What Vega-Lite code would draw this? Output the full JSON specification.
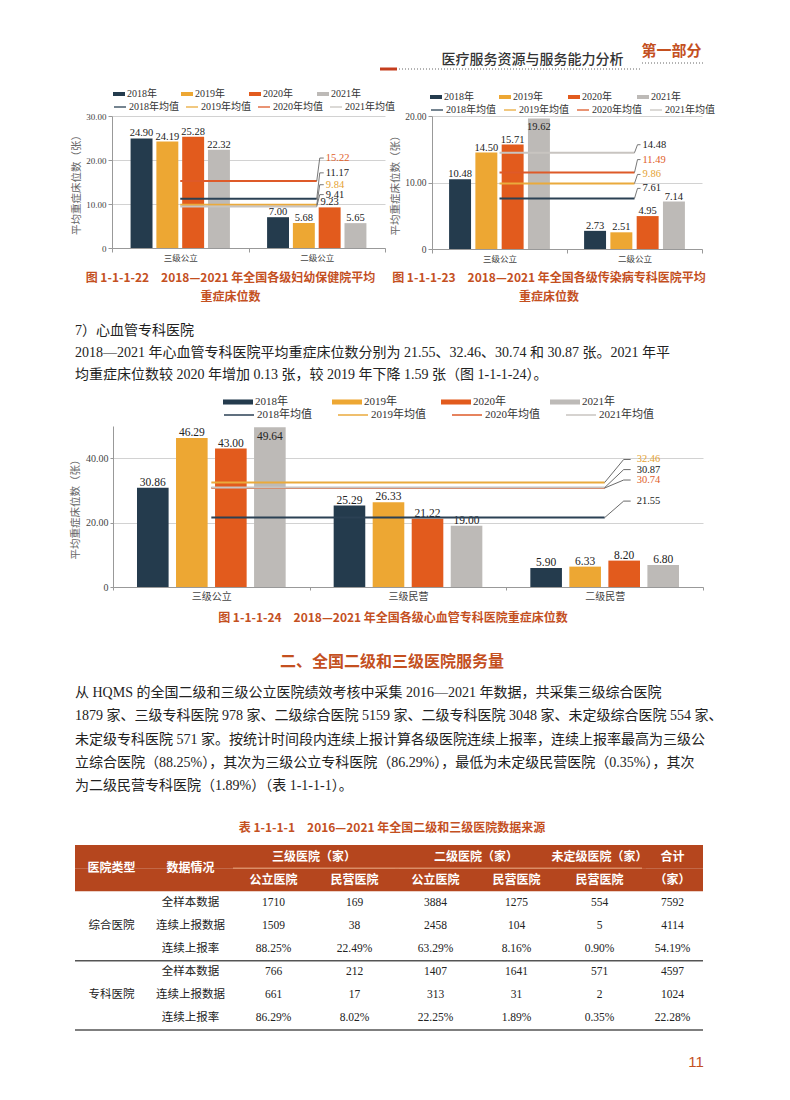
{
"$schema": "https://vega.github.io/schema/vega-lite/v6.json",
"background": "white",
"padding": 0,
"spacing": 0,
"bounds": "full",
"resolve": {"scale": {"color": "independent", "stroke": "independent", "xOffset": "independent"}, "legend": {"color": "independent", "stroke": "independent"}},
"config": {
  "view": {"stroke": null},
  "font": "Liberation Serif, Noto Sans CJK SC",
  "axis": {"labelFont": "Liberation Serif, Noto Sans CJK SC", "titleFont": "Noto Sans CJK SC", "labelOverlap": false},
  "axisY": {"labelOverlap": false},
  "axisQuantitative": {"labelOverlap": false},
  "legend": {"labelFont": "Liberation Serif, Noto Sans CJK SC"},
  "title": {"font": "Noto Sans CJK SC"}
},
"datasets": {
  "header1": [{"文本": "医疗服务资源与服务能力分析"}],
  "header2": [{"文本": "第一部分"}],
  "redline": [{"名称": "页眉红线"}],
  "c1bars": [
    {"cat": "三级公立", "系列": "2018年", "v": 24.90}, {"cat": "三级公立", "系列": "2019年", "v": 24.19},
    {"cat": "三级公立", "系列": "2020年", "v": 25.28}, {"cat": "三级公立", "系列": "2021年", "v": 22.32},
    {"cat": "二级公立", "系列": "2018年", "v": 7.00}, {"cat": "二级公立", "系列": "2019年", "v": 5.68},
    {"cat": "二级公立", "系列": "2020年", "v": 9.23}, {"cat": "二级公立", "系列": "2021年", "v": 5.65}
  ],
  "c1avg": [
    {"cat": "三级公立", "系列": "2018年均值", "v": 11.17}, {"cat": "二级公立", "系列": "2018年均值", "v": 11.17},
    {"cat": "三级公立", "系列": "2019年均值", "v": 9.84}, {"cat": "二级公立", "系列": "2019年均值", "v": 9.84},
    {"cat": "三级公立", "系列": "2020年均值", "v": 15.22}, {"cat": "二级公立", "系列": "2020年均值", "v": 15.22},
    {"cat": "三级公立", "系列": "2021年均值", "v": 9.41}, {"cat": "二级公立", "系列": "2021年均值", "v": 9.41}
  ],
  "c2bars": [
    {"cat": "三级公立", "系列": "2018年", "v": 10.48}, {"cat": "三级公立", "系列": "2019年", "v": 14.50},
    {"cat": "三级公立", "系列": "2020年", "v": 15.71}, {"cat": "三级公立", "系列": "2021年", "v": 19.62},
    {"cat": "二级公立", "系列": "2018年", "v": 2.73}, {"cat": "二级公立", "系列": "2019年", "v": 2.51},
    {"cat": "二级公立", "系列": "2020年", "v": 4.95}, {"cat": "二级公立", "系列": "2021年", "v": 7.14}
  ],
  "c2avg": [
    {"cat": "三级公立", "系列": "2018年均值", "v": 7.61}, {"cat": "二级公立", "系列": "2018年均值", "v": 7.61},
    {"cat": "三级公立", "系列": "2019年均值", "v": 9.86}, {"cat": "二级公立", "系列": "2019年均值", "v": 9.86},
    {"cat": "三级公立", "系列": "2020年均值", "v": 11.49}, {"cat": "二级公立", "系列": "2020年均值", "v": 11.49},
    {"cat": "三级公立", "系列": "2021年均值", "v": 14.48}, {"cat": "二级公立", "系列": "2021年均值", "v": 14.48}
  ],
  "c3bars": [
    {"cat": "三级公立", "系列": "2018年", "v": 30.86}, {"cat": "三级公立", "系列": "2019年", "v": 46.29},
    {"cat": "三级公立", "系列": "2020年", "v": 43.00}, {"cat": "三级公立", "系列": "2021年", "v": 49.64},
    {"cat": "三级民营", "系列": "2018年", "v": 25.29}, {"cat": "三级民营", "系列": "2019年", "v": 26.33},
    {"cat": "三级民营", "系列": "2020年", "v": 21.22}, {"cat": "三级民营", "系列": "2021年", "v": 19.00},
    {"cat": "二级民营", "系列": "2018年", "v": 5.90}, {"cat": "二级民营", "系列": "2019年", "v": 6.33},
    {"cat": "二级民营", "系列": "2020年", "v": 8.20}, {"cat": "二级民营", "系列": "2021年", "v": 6.80}
  ],
  "c3avg": [
    {"cat": "三级公立", "系列": "2018年均值", "v": 21.55}, {"cat": "三级民营", "系列": "2018年均值", "v": 21.55}, {"cat": "二级民营", "系列": "2018年均值", "v": 21.55},
    {"cat": "三级公立", "系列": "2019年均值", "v": 32.46}, {"cat": "三级民营", "系列": "2019年均值", "v": 32.46}, {"cat": "二级民营", "系列": "2019年均值", "v": 32.46},
    {"cat": "三级公立", "系列": "2020年均值", "v": 30.74}, {"cat": "三级民营", "系列": "2020年均值", "v": 30.74}, {"cat": "二级民营", "系列": "2020年均值", "v": 30.74},
    {"cat": "三级公立", "系列": "2021年均值", "v": 30.87}, {"cat": "三级民营", "系列": "2021年均值", "v": 30.87}, {"cat": "二级民营", "系列": "2021年均值", "v": 30.87}
  ],
  "paraC": [
    {"段": "正文", "行": 1, "文本": "　　7）心血管专科医院"},
    {"段": "正文", "行": 2, "文本": "　　2018—2021 年心血管专科医院平均重症床位数分别为 21.55、32.46、30.74 和 30.87 张。2021 年平"},
    {"段": "正文", "行": 3, "文本": "均重症床位数较 2020 年增加 0.13 张，较 2019 年下降 1.59 张（图 1-1-1-24）。"}
  ],
  "secTitle": [{"文本": "二、全国二级和三级医院服务量"}],
  "paraE": [
    {"段": "正文", "行": 1, "文本": "　　从 HQMS 的全国二级和三级公立医院绩效考核中采集 2016—2021 年数据，共采集三级综合医院"},
    {"段": "正文", "行": 2, "文本": "1879 家、三级专科医院 978 家、二级综合医院 5159 家、二级专科医院 3048 家、未定级综合医院 554 家、"},
    {"段": "正文", "行": 3, "文本": "未定级专科医院 571 家。按统计时间段内连续上报计算各级医院连续上报率，连续上报率最高为三级公"},
    {"段": "正文", "行": 4, "文本": "立综合医院（88.25%），其次为三级公立专科医院（86.29%），最低为未定级民营医院（0.35%），其次"},
    {"段": "正文", "行": 5, "文本": "为二级民营专科医院（1.89%）（表 1-1-1-1）。"}
  ],
  "tabTitle": [{"文本": "表 1-1-1-1　2016—2021 年全国二级和三级医院数据来源"}],
  "pageNo": [{"文本": "11"}],
  "hdr": [{"row": "h1"}, {"row": "h2"}],
  "tlines": [{"row": "r3"}, {"row": "r6"}],
  "thead": [
    {"col": "类型", "row": "h2", "text": "医院类型"},
    {"col": "情况", "row": "h2", "text": "数据情况"},
    {"col": "三级", "row": "h2", "sub": "公立医院", "text": "公立医院"},
    {"col": "三级", "row": "h2", "sub": "民营医院", "text": "民营医院"},
    {"col": "二级", "row": "h2", "sub": "公立医院", "text": "公立医院"},
    {"col": "二级", "row": "h2", "sub": "民营医院", "text": "民营医院"},
    {"col": "未民", "row": "h1", "text": "未定级医院（家）"},
    {"col": "未民", "row": "h2", "text": "民营医院"},
    {"col": "合计", "row": "h1", "text": "合计"},
    {"col": "合计", "row": "h2", "text": "（家）"}
  ],
  "tgroup": [
    {"col": "三级", "row": "h1", "text": "三级医院（家）"},
    {"col": "二级", "row": "h1", "text": "二级医院（家）"}
  ],
  "tbody": [
    {"col": "类型", "row": "r2", "text": "综合医院"}, {"col": "类型", "row": "r5", "text": "专科医院"},
    {"col": "情况", "row": "r1", "text": "全样本数据"}, {"col": "情况", "row": "r2", "text": "连续上报数据"}, {"col": "情况", "row": "r3", "text": "连续上报率"},
    {"col": "情况", "row": "r4", "text": "全样本数据"}, {"col": "情况", "row": "r5", "text": "连续上报数据"}, {"col": "情况", "row": "r6", "text": "连续上报率"},
    {"col": "三级", "sub": "公立医院", "row": "r1", "text": "1710"}, {"col": "三级", "sub": "公立医院", "row": "r2", "text": "1509"}, {"col": "三级", "sub": "公立医院", "row": "r3", "text": "88.25%"},
    {"col": "三级", "sub": "公立医院", "row": "r4", "text": "766"}, {"col": "三级", "sub": "公立医院", "row": "r5", "text": "661"}, {"col": "三级", "sub": "公立医院", "row": "r6", "text": "86.29%"},
    {"col": "三级", "sub": "民营医院", "row": "r1", "text": "169"}, {"col": "三级", "sub": "民营医院", "row": "r2", "text": "38"}, {"col": "三级", "sub": "民营医院", "row": "r3", "text": "22.49%"},
    {"col": "三级", "sub": "民营医院", "row": "r4", "text": "212"}, {"col": "三级", "sub": "民营医院", "row": "r5", "text": "17"}, {"col": "三级", "sub": "民营医院", "row": "r6", "text": "8.02%"},
    {"col": "二级", "sub": "公立医院", "row": "r1", "text": "3884"}, {"col": "二级", "sub": "公立医院", "row": "r2", "text": "2458"}, {"col": "二级", "sub": "公立医院", "row": "r3", "text": "63.29%"},
    {"col": "二级", "sub": "公立医院", "row": "r4", "text": "1407"}, {"col": "二级", "sub": "公立医院", "row": "r5", "text": "313"}, {"col": "二级", "sub": "公立医院", "row": "r6", "text": "22.25%"},
    {"col": "二级", "sub": "民营医院", "row": "r1", "text": "1275"}, {"col": "二级", "sub": "民营医院", "row": "r2", "text": "104"}, {"col": "二级", "sub": "民营医院", "row": "r3", "text": "8.16%"},
    {"col": "二级", "sub": "民营医院", "row": "r4", "text": "1641"}, {"col": "二级", "sub": "民营医院", "row": "r5", "text": "31"}, {"col": "二级", "sub": "民营医院", "row": "r6", "text": "1.89%"},
    {"col": "未民", "row": "r1", "text": "554"}, {"col": "未民", "row": "r2", "text": "5"}, {"col": "未民", "row": "r3", "text": "0.90%"},
    {"col": "未民", "row": "r4", "text": "571"}, {"col": "未民", "row": "r5", "text": "2"}, {"col": "未民", "row": "r6", "text": "0.35%"},
    {"col": "合计", "row": "r1", "text": "7592"}, {"col": "合计", "row": "r2", "text": "4114"}, {"col": "合计", "row": "r3", "text": "54.19%"},
    {"col": "合计", "row": "r4", "text": "4597"}, {"col": "合计", "row": "r5", "text": "1024"}, {"col": "合计", "row": "r6", "text": "22.28%"}
  ]
},
"vconcat": [
  {"hconcat": [
    {"width": 380, "height": 88, "data": {"values": []}, "mark": "point"},
    {"width": 17, "height": 88, "data": {"name": "redline"}, "mark": {"type": "rule", "color": "#c43d1d", "strokeWidth": 3, "yOffset": -19}, "encoding": {"y": {"value": "height"}}},
    {"width": 243, "height": 88, "data": {"name": "header1"}, "layer": [
      {"mark": {"type": "rule", "color": "#666", "strokeWidth": 1, "strokeDash": [1, 2], "yOffset": -19}, "encoding": {"y": {"value": "height"}}},
      {"mark": {"type": "text", "font": "Noto Sans CJK SC", "fontSize": 14, "fontWeight": 500, "color": "#333", "baseline": "bottom", "dy": -21, "dx": 14}, "encoding": {"y": {"value": "height"}, "text": {"field": "文本"}}}
    ]},
    {"width": 63, "height": 88, "data": {"name": "header2"}, "layer": [
      {"mark": {"type": "rule", "color": "#666", "strokeWidth": 1, "strokeDash": [1, 2], "yOffset": -25}, "encoding": {"y": {"value": "height"}}},
      {"mark": {"type": "text", "font": "Noto Sans CJK SC", "fontSize": 15, "fontWeight": "bold", "color": "#c4501f", "baseline": "bottom", "dy": -29}, "encoding": {"y": {"value": "height"}, "text": {"field": "文本"}}}
    ]}
  ], "spacing": 0, "bounds": "flush"},

  {"hconcat": [
    {"width": 112, "height": 204, "data": {"values": []}, "mark": "point"},
    {
      "width": 273, "height": 132,
      "title": {"text": ["图 1-1-1-22　2018—2021 年全国各级妇幼保健院平均", "重症床位数"], "orient": "bottom", "offset": 11, "dx": -18, "font": "Noto Sans CJK SC", "fontSize": 12, "fontWeight": "bold", "color": "#c4501f", "lineHeight": 19},
      "encoding": {
        "x": {"field": "cat", "type": "nominal", "scale": {"domain": ["三级公立", "二级公立"], "paddingInner": 0, "paddingOuter": 0}, "axis": {"title": null, "labelAngle": 0, "labelFont": "Noto Sans CJK SC", "labelFontSize": 8.5, "labelColor": "#444", "tickBand": "extent", "tickSize": 4, "tickColor": "#999", "domainColor": "#999", "labelPadding": 1}},
        "y": {"field": "v", "type": "quantitative", "scale": {"domain": [0, 30], "nice": false}, "axis": {"title": "平均重症床位数（张）", "values": [0, 5, 10, 15, 20, 25, 30], "tickCount": 6, "labelOverlap": false, "labelSeparation": 0, "labelExpr": "datum.value == 0 ? '0' : format(datum.value, '.2f')", "labelFontSize": 9, "labelColor": "#444", "titleFontSize": 10.5, "titleFontWeight": "normal", "titleColor": "#666", "titlePadding": 4, "tickSize": 4, "tickColor": "#999", "domainColor": "#999", "gridColor": "#d2d2d2", "labelPadding": 2}}
      },
      "layer": [
        {"data": {"name": "c1bars"}, "mark": {"type": "bar"}, "encoding": {
          "xOffset": {"field": "系列", "type": "nominal", "scale": {"domain": ["2018年", "2019年", "2020年", "2021年"], "paddingInner": 0.15, "paddingOuter": 0.72}},
          "color": {"field": "系列", "type": "nominal",
            "scale": {"domain": ["2018年", "2019年", "2020年", "2021年"], "range": ["#243b4d", "#eda733", "#e25b1d", "#bdbab7"]},
            "legend": {"title": null, "orient": "none", "legendX": 1, "legendY": -28, "direction": "horizontal", "columns": 4, "symbolSize": 144, "symbolType": "M-1,-0.33H1V0.33H-1Z", "symbolStrokeWidth": 0, "labelFontSize": 10, "labelColor": "#333", "labelOffset": 2, "columnPadding": 24}}
        }},
        {"data": {"name": "c1bars"}, "mark": {"type": "text", "baseline": "bottom", "fontSize": 10.5, "color": "#222"}, "encoding": {
          "xOffset": {"field": "系列", "type": "nominal"},
          "text": {"field": "v", "type": "quantitative", "format": ".2f"}}},
        {"data": {"name": "c1avg"}, "mark": {"type": "line", "strokeWidth": 2}, "encoding": {
          "stroke": {"field": "系列", "type": "nominal",
            "scale": {"domain": ["2018年均值", "2019年均值", "2020年均值", "2021年均值"], "range": ["#2b4154", "#eaaa3c", "#de5a29", "#c8c4c0"]},
            "legend": {"title": null, "orient": "none", "legendX": 1, "legendY": -16, "direction": "horizontal", "columns": 4, "symbolSize": 144, "symbolType": "stroke", "symbolStrokeWidth": 1.3, "labelFontSize": 10, "labelColor": "#333", "labelOffset": 2, "columnPadding": 4}}}},
        {"data": {"name": "c1avg"}, "transform": [{"filter": "datum.cat == '二级公立'"}],
          "mark": {"type": "rule", "color": "#555", "strokeWidth": 0.8, "x2Offset": 3, "y2Offset": {"expr": "datum['系列']=='2018年均值' ? -26 : datum['系列']=='2019年均值' ? -20 : datum['系列']=='2020年均值' ? -23 : -12"}},
          "encoding": {"x2": {"field": "cat"}, "y2": {"field": "v"}}},
        {"data": {"name": "c1avg"}, "transform": [{"filter": "datum.cat == '二级公立'"}],
          "mark": {"type": "rule", "color": "#555", "strokeWidth": 0.8, "xOffset": 3, "x2Offset": 7,
            "yOffset": {"expr": "datum['系列']=='2018年均值' ? -26 : datum['系列']=='2019年均值' ? -20 : datum['系列']=='2020年均值' ? -23 : -12"},
            "y2Offset": {"expr": "datum['系列']=='2018年均值' ? -26 : datum['系列']=='2019年均值' ? -20 : datum['系列']=='2020年均值' ? -23 : -12"}},
          "encoding": {"x2": {"field": "cat"}, "y2": {"field": "v"}}},
        {"data": {"name": "c1avg"}, "transform": [{"filter": "datum.cat == '二级公立'"}],
          "mark": {"type": "text", "align": "left", "baseline": "middle", "fontSize": 10.5, "dx": 9,
            "dy": {"expr": "datum['系列']=='2018年均值' ? -26 : datum['系列']=='2019年均值' ? -20 : datum['系列']=='2020年均值' ? -23 : -12"}},
          "encoding": {
            "text": {"field": "v", "type": "quantitative", "format": ".2f"},
            "color": {"condition": [{"test": "datum['系列']=='2019年均值'", "value": "#e5a232"}, {"test": "datum['系列']=='2020年均值'", "value": "#e0602a"}], "value": "#222"}}}
      ]
    },
    {"width": 47, "height": 132, "data": {"values": []}, "mark": "point"},
    {
      "width": 270, "height": 133,
      "title": {"text": ["图 1-1-1-23　2018—2021 年全国各级传染病专科医院平均", "重症床位数"], "orient": "bottom", "offset": 10, "dx": -18, "font": "Noto Sans CJK SC", "fontSize": 12, "fontWeight": "bold", "color": "#c4501f", "lineHeight": 19},
      "encoding": {
        "x": {"field": "cat", "type": "nominal", "scale": {"domain": ["三级公立", "二级公立"], "paddingInner": 0, "paddingOuter": 0}, "axis": {"title": null, "labelAngle": 0, "labelFont": "Noto Sans CJK SC", "labelFontSize": 8.5, "labelColor": "#444", "tickBand": "extent", "tickSize": 4, "tickColor": "#999", "domainColor": "#999", "labelPadding": 1}},
        "y": {"field": "v", "type": "quantitative", "scale": {"domain": [0, 20], "nice": false}, "axis": {"title": "平均重症床位数（张）", "values": [0, 5, 10, 15, 20], "tickCount": 4, "labelOverlap": false, "labelSeparation": 0, "labelExpr": "datum.value == 0 ? '0' : format(datum.value, '.2f')", "labelFontSize": 9.5, "labelColor": "#444", "titleFontSize": 10.5, "titleFontWeight": "normal", "titleColor": "#666", "titlePadding": 4, "tickSize": 4, "tickColor": "#999", "domainColor": "#999", "gridColor": "#d2d2d2", "labelPadding": 2}}
      },
      "layer": [
        {"data": {"name": "c2bars"}, "mark": {"type": "bar"}, "encoding": {
          "xOffset": {"field": "系列", "type": "nominal", "scale": {"domain": ["2018年", "2019年", "2020年", "2021年"], "paddingInner": 0.165, "paddingOuter": 0.65}},
          "color": {"field": "系列", "type": "nominal",
            "scale": {"domain": ["2018年", "2019年", "2020年", "2021年"], "range": ["#243b4d", "#eda733", "#e25b1d", "#bdbab7"]},
            "legend": {"title": null, "orient": "none", "legendX": -2, "legendY": -25, "direction": "horizontal", "columns": 4, "symbolSize": 144, "symbolType": "M-1,-0.33H1V0.33H-1Z", "symbolStrokeWidth": 0, "labelFontSize": 10, "labelColor": "#333", "labelOffset": 2, "columnPadding": 25}}
        }},
        {"data": {"name": "c2bars"}, "transform": [{"filter": "datum.v <= 19"}], "mark": {"type": "text", "baseline": "bottom", "fontSize": 10.5, "color": "#222"}, "encoding": {
          "xOffset": {"field": "系列", "type": "nominal"},
          "text": {"field": "v", "type": "quantitative", "format": ".2f"}}},
        {"data": {"name": "c2bars"}, "transform": [{"filter": "datum.v > 19"}], "mark": {"type": "text", "baseline": "top", "dy": 3, "fontSize": 10.5, "color": "#222"}, "encoding": {
          "xOffset": {"field": "系列", "type": "nominal"},
          "text": {"field": "v", "type": "quantitative", "format": ".2f"}}},
        {"data": {"name": "c2avg"}, "mark": {"type": "line", "strokeWidth": 2}, "encoding": {
          "stroke": {"field": "系列", "type": "nominal",
            "scale": {"domain": ["2018年均值", "2019年均值", "2020年均值", "2021年均值"], "range": ["#2b4154", "#eaaa3c", "#de5a29", "#c8c4c0"]},
            "legend": {"title": null, "orient": "none", "legendX": -2, "legendY": -13, "direction": "horizontal", "columns": 4, "symbolSize": 144, "symbolType": "stroke", "symbolStrokeWidth": 1.3, "labelFontSize": 10, "labelColor": "#333", "labelOffset": 2, "columnPadding": 5}}}},
        {"data": {"name": "c2avg"}, "transform": [{"filter": "datum.cat == '二级公立'"}],
          "mark": {"type": "rule", "color": "#555", "strokeWidth": 0.8, "x2Offset": 3, "y2Offset": {"expr": "datum['系列']=='2018年均值' ? -10 : datum['系列']=='2019年均值' ? -9 : datum['系列']=='2020年均值' ? -13 : -8"}},
          "encoding": {"x2": {"field": "cat"}, "y2": {"field": "v"}}},
        {"data": {"name": "c2avg"}, "transform": [{"filter": "datum.cat == '二级公立'"}],
          "mark": {"type": "rule", "color": "#555", "strokeWidth": 0.8, "xOffset": 3, "x2Offset": 6,
            "yOffset": {"expr": "datum['系列']=='2018年均值' ? -10 : datum['系列']=='2019年均值' ? -9 : datum['系列']=='2020年均值' ? -13 : -8"},
            "y2Offset": {"expr": "datum['系列']=='2018年均值' ? -10 : datum['系列']=='2019年均值' ? -9 : datum['系列']=='2020年均值' ? -13 : -8"}},
          "encoding": {"x2": {"field": "cat"}, "y2": {"field": "v"}}},
        {"data": {"name": "c2avg"}, "transform": [{"filter": "datum.cat == '二级公立'"}],
          "mark": {"type": "text", "align": "left", "baseline": "middle", "fontSize": 10.5, "dx": 8,
            "dy": {"expr": "datum['系列']=='2018年均值' ? -10 : datum['系列']=='2019年均值' ? -9 : datum['系列']=='2020年均值' ? -13 : -8"}},
          "encoding": {
            "text": {"field": "v", "type": "quantitative", "format": ".2f"},
            "color": {"condition": [{"test": "datum['系列']=='2019年均值'", "value": "#e5a232"}, {"test": "datum['系列']=='2020年均值'", "value": "#e0602a"}], "value": "#222"}}}
      ]
    }
  ], "spacing": 0, "bounds": "flush", "resolve": {"scale": {"color": "independent", "stroke": "independent", "xOffset": "independent"}, "legend": {"color": "independent", "stroke": "independent"}}},

  {"hconcat": [
    {"width": 75, "height": 76, "data": {"values": []}, "mark": "point"},
    {"width": 640, "height": 66, "data": {"name": "paraC"},
      "mark": {"type": "text", "align": "left", "baseline": "middle", "fontSize": 14, "color": "#222"},
      "encoding": {
        "x": {"field": "段", "type": "nominal", "bandPosition": 0, "scale": {"type": "band", "paddingInner": 0, "paddingOuter": 0}, "axis": null},
        "y": {"field": "行", "type": "ordinal", "scale": {"type": "band", "paddingInner": 0, "paddingOuter": 0}, "axis": null},
        "text": {"field": "文本"}}}
  ], "spacing": 0, "bounds": "flush"},

  {"hconcat": [
    {"width": 113, "height": 225, "data": {"values": []}, "mark": "point"},
    {
      "width": 590, "height": 161,
      "title": {"text": "图 1-1-1-24　2018—2021 年全国各级心血管专科医院重症床位数", "orient": "bottom", "offset": 12, "dx": -15, "font": "Noto Sans CJK SC", "fontSize": 12, "fontWeight": "bold", "color": "#c4501f"},
      "encoding": {
        "x": {"field": "cat", "type": "nominal", "scale": {"domain": ["三级公立", "三级民营", "二级民营"], "paddingInner": 0, "paddingOuter": 0}, "axis": {"title": null, "labelAngle": 0, "labelFont": "Noto Sans CJK SC", "labelFontSize": 10, "labelColor": "#444", "tickBand": "extent", "tickSize": 3, "tickColor": "#999", "domainColor": "#999", "labelPadding": 1}},
        "y": {"field": "v", "type": "quantitative", "scale": {"domain": [0, 50], "nice": false}, "axis": {"title": "平均重症床位数（张）", "values": [0, 10, 20, 30, 40, 50], "tickCount": 5, "labelOverlap": false, "labelSeparation": 0, "labelExpr": "datum.value == 0 ? '0' : format(datum.value, '.2f')", "labelFontSize": 10, "labelColor": "#444", "titleFontSize": 10.5, "titleFontWeight": "normal", "titleColor": "#666", "titlePadding": 5, "tickSize": 3, "tickColor": "#999", "domainColor": "#999", "gridColor": "#d2d2d2", "labelPadding": 2}}
      },
      "layer": [
        {"data": {"name": "c3bars"}, "mark": {"type": "bar"}, "encoding": {
          "xOffset": {"field": "系列", "type": "nominal", "scale": {"domain": ["2018年", "2019年", "2020年", "2021年"], "paddingInner": 0.19, "paddingOuter": 0.615}},
          "color": {"field": "系列", "type": "nominal",
            "scale": {"domain": ["2018年", "2019年", "2020年", "2021年"], "range": ["#243b4d", "#eda733", "#e25b1d", "#bdbab7"]},
            "legend": {"title": null, "orient": "none", "legendX": 119, "legendY": -30, "direction": "horizontal", "columns": 4, "symbolSize": 144, "symbolType": "M-2.5,-0.42H2.5V0.42H-2.5Z", "symbolStrokeWidth": 0, "labelFontSize": 11, "labelColor": "#333", "labelOffset": 11, "columnPadding": 44}}
        }},
        {"data": {"name": "c3bars"}, "transform": [{"filter": "datum.v <= 48"}], "mark": {"type": "text", "baseline": "bottom", "fontSize": 11.5, "color": "#222"}, "encoding": {
          "xOffset": {"field": "系列", "type": "nominal"},
          "text": {"field": "v", "type": "quantitative", "format": ".2f"}}},
        {"data": {"name": "c3bars"}, "transform": [{"filter": "datum.v > 48"}], "mark": {"type": "text", "baseline": "top", "dy": 4, "fontSize": 11.5, "color": "#222"}, "encoding": {
          "xOffset": {"field": "系列", "type": "nominal"},
          "text": {"field": "v", "type": "quantitative", "format": ".2f"}}},
        {"data": {"name": "c3avg"}, "mark": {"type": "line", "strokeWidth": 2}, "encoding": {
          "stroke": {"field": "系列", "type": "nominal",
            "scale": {"domain": ["2018年均值", "2019年均值", "2020年均值", "2021年均值"], "range": ["#2b4154", "#eaaa3c", "#de5a29", "#c8c4c0"]},
            "legend": {"title": null, "orient": "none", "legendX": 119, "legendY": -18, "direction": "horizontal", "columns": 4, "symbolSize": 144, "symbolType": "M-2.5,0H2.5", "symbolStrokeWidth": 1.5, "labelFontSize": 11, "labelColor": "#333", "labelOffset": 11, "columnPadding": 23}}}},
        {"data": {"name": "c3avg"}, "transform": [{"filter": "datum.cat == '二级民营'"}],
          "mark": {"type": "rule", "color": "#444", "strokeWidth": 0.8, "x2Offset": 19, "y2Offset": {"expr": "datum['系列']=='2018年均值' ? -16.5 : datum['系列']=='2019年均值' ? -23 : datum['系列']=='2020年均值' ? -8 : -18"}},
          "encoding": {"x2": {"field": "cat"}, "y2": {"field": "v"}}},
        {"data": {"name": "c3avg"}, "transform": [{"filter": "datum.cat == '二级民营'"}],
          "mark": {"type": "rule", "color": "#444", "strokeWidth": 0.8, "xOffset": 19, "x2Offset": 26,
            "yOffset": {"expr": "datum['系列']=='2018年均值' ? -16.5 : datum['系列']=='2019年均值' ? -23 : datum['系列']=='2020年均值' ? -8 : -18"},
            "y2Offset": {"expr": "datum['系列']=='2018年均值' ? -16.5 : datum['系列']=='2019年均值' ? -23 : datum['系列']=='2020年均值' ? -8 : -18"}},
          "encoding": {"x2": {"field": "cat"}, "y2": {"field": "v"}}},
        {"data": {"name": "c3avg"}, "transform": [{"filter": "datum.cat == '二级民营'"}],
          "mark": {"type": "text", "align": "left", "baseline": "middle", "fontSize": 10.5, "dx": 32,
            "dy": {"expr": "datum['系列']=='2018年均值' ? -16.5 : datum['系列']=='2019年均值' ? -23 : datum['系列']=='2020年均值' ? -8 : -18"}},
          "encoding": {
            "text": {"field": "v", "type": "quantitative", "format": ".2f"},
            "color": {"condition": [{"test": "datum['系列']=='2019年均值'", "value": "#e5a232"}, {"test": "datum['系列']=='2020年均值'", "value": "#e0602a"}], "value": "#222"}}}
      ]
    }
  ], "spacing": 0, "bounds": "flush", "resolve": {"scale": {"color": "independent", "stroke": "independent", "xOffset": "independent"}, "legend": {"color": "independent", "stroke": "independent"}}},

  {"width": 784, "height": 30, "data": {"name": "secTitle"}, "mark": {"type": "text", "font": "Noto Sans CJK SC", "fontSize": 16, "fontWeight": "bold", "color": "#c4501f", "dy": -4.5}, "encoding": {"text": {"field": "文本"}}},

  {"hconcat": [
    {"width": 75, "height": 117, "data": {"values": []}, "mark": "point"},
    {"width": 640, "height": 117, "data": {"name": "paraE"},
      "mark": {"type": "text", "align": "left", "baseline": "middle", "fontSize": 14, "color": "#222"},
      "encoding": {
        "x": {"field": "段", "type": "nominal", "bandPosition": 0, "scale": {"type": "band", "paddingInner": 0, "paddingOuter": 0}, "axis": null},
        "y": {"field": "行", "type": "ordinal", "scale": {"type": "band", "paddingInner": 0, "paddingOuter": 0}, "axis": null},
        "text": {"field": "文本"}}}
  ], "spacing": 0, "bounds": "flush"},

  {"width": 784, "height": 47, "data": {"name": "tabTitle"}, "mark": {"type": "text", "font": "Noto Sans CJK SC", "fontSize": 12, "fontWeight": "bold", "color": "#c4501f", "dy": 6.5}, "encoding": {"text": {"field": "文本"}}},

  {"hconcat": [
    {"width": 75, "height": 185, "data": {"values": []}, "mark": "point"},
    {"width": 73, "height": 185, "layer": [
      {"data": {"name": "hdr"}, "mark": {"type": "rect", "color": "#b5461e"}, "encoding": {"y": {"field": "row", "type": "nominal", "scale": {"type": "band", "domain": ["h1", "h2", "r1", "r2", "r3", "r4", "r5", "r6"], "paddingInner": 0, "paddingOuter": 0}, "axis": null}}},
      {"data": {"name": "thead"}, "transform": [{"filter": "datum.col == '类型'"}], "mark": {"type": "text", "font": "Noto Sans CJK SC", "fontSize": 12, "fontWeight": "bold", "color": "#ffffff"}, "encoding": {"y": {"field": "row", "type": "nominal", "bandPosition": 0}, "text": {"field": "text"}}},
      {"data": {"name": "tbody"}, "transform": [{"filter": "datum.col == '类型'"}], "mark": {"type": "text", "fontSize": 11.5, "color": "#222"}, "encoding": {"y": {"field": "row", "type": "nominal"}, "text": {"field": "text"}}},
      {"data": {"name": "tlines"}, "mark": {"type": "rule", "color": "#555", "strokeWidth": 1.5}, "encoding": {"y": {"field": "row", "type": "nominal", "bandPosition": 1}}}
    ]},
    {"width": 85, "height": 185, "layer": [
      {"data": {"name": "hdr"}, "mark": {"type": "rect", "color": "#b5461e"}, "encoding": {"y": {"field": "row", "type": "nominal", "scale": {"type": "band", "domain": ["h1", "h2", "r1", "r2", "r3", "r4", "r5", "r6"], "paddingInner": 0, "paddingOuter": 0}, "axis": null}}},
      {"data": {"name": "thead"}, "transform": [{"filter": "datum.col == '情况'"}], "mark": {"type": "text", "font": "Noto Sans CJK SC", "fontSize": 12, "fontWeight": "bold", "color": "#ffffff"}, "encoding": {"y": {"field": "row", "type": "nominal", "bandPosition": 0}, "text": {"field": "text"}}},
      {"data": {"name": "tbody"}, "transform": [{"filter": "datum.col == '情况'"}], "mark": {"type": "text", "fontSize": 11.5, "color": "#222"}, "encoding": {"y": {"field": "row", "type": "nominal"}, "text": {"field": "text"}}},
      {"data": {"name": "tlines"}, "mark": {"type": "rule", "color": "#555", "strokeWidth": 1.5}, "encoding": {"y": {"field": "row", "type": "nominal", "bandPosition": 1}}}
    ]},
    {"width": 162, "height": 185, "layer": [
      {"data": {"name": "hdr"}, "mark": {"type": "rect", "color": "#b5461e"}, "encoding": {"y": {"field": "row", "type": "nominal", "scale": {"type": "band", "domain": ["h1", "h2", "r1", "r2", "r3", "r4", "r5", "r6"], "paddingInner": 0, "paddingOuter": 0}, "axis": null}}},
      {"data": {"name": "hdr"}, "transform": [{"filter": "datum.row == 'h1'"}], "mark": {"type": "rule", "color": "#e9a57c", "strokeWidth": 1, "xOffset": 4, "x2Offset": -4}, "encoding": {"y": {"field": "row", "type": "nominal", "bandPosition": 1}}},
      {"data": {"name": "tgroup"}, "transform": [{"filter": "datum.col == '三级'"}], "mark": {"type": "text", "font": "Noto Sans CJK SC", "fontSize": 12, "fontWeight": "bold", "color": "#ffffff"}, "encoding": {"y": {"field": "row", "type": "nominal"}, "text": {"field": "text"}}},
      {"data": {"name": "thead"}, "transform": [{"filter": "datum.col == '三级'"}], "mark": {"type": "text", "font": "Noto Sans CJK SC", "fontSize": 12, "fontWeight": "bold", "color": "#ffffff"}, "encoding": {
        "x": {"field": "sub", "type": "nominal", "scale": {"type": "band", "domain": ["公立医院", "民营医院"], "paddingInner": 0, "paddingOuter": 0}, "axis": null},
        "y": {"field": "row", "type": "nominal"}, "text": {"field": "text"}}},
      {"data": {"name": "tbody"}, "transform": [{"filter": "datum.col == '三级'"}], "mark": {"type": "text", "fontSize": 11.5, "color": "#222"}, "encoding": {
        "x": {"field": "sub", "type": "nominal"}, "y": {"field": "row", "type": "nominal"}, "text": {"field": "text"}}},
      {"data": {"name": "tlines"}, "mark": {"type": "rule", "color": "#555", "strokeWidth": 1.5}, "encoding": {"y": {"field": "row", "type": "nominal", "bandPosition": 1}}}
    ]},
    {"width": 162, "height": 185, "layer": [
      {"data": {"name": "hdr"}, "mark": {"type": "rect", "color": "#b5461e"}, "encoding": {"y": {"field": "row", "type": "nominal", "scale": {"type": "band", "domain": ["h1", "h2", "r1", "r2", "r3", "r4", "r5", "r6"], "paddingInner": 0, "paddingOuter": 0}, "axis": null}}},
      {"data": {"name": "hdr"}, "transform": [{"filter": "datum.row == 'h1'"}], "mark": {"type": "rule", "color": "#e9a57c", "strokeWidth": 1, "xOffset": 4, "x2Offset": -4}, "encoding": {"y": {"field": "row", "type": "nominal", "bandPosition": 1}}},
      {"data": {"name": "tgroup"}, "transform": [{"filter": "datum.col == '二级'"}], "mark": {"type": "text", "font": "Noto Sans CJK SC", "fontSize": 12, "fontWeight": "bold", "color": "#ffffff"}, "encoding": {"y": {"field": "row", "type": "nominal"}, "text": {"field": "text"}}},
      {"data": {"name": "thead"}, "transform": [{"filter": "datum.col == '二级'"}], "mark": {"type": "text", "font": "Noto Sans CJK SC", "fontSize": 12, "fontWeight": "bold", "color": "#ffffff"}, "encoding": {
        "x": {"field": "sub", "type": "nominal", "scale": {"type": "band", "domain": ["公立医院", "民营医院"], "paddingInner": 0, "paddingOuter": 0}, "axis": null},
        "y": {"field": "row", "type": "nominal"}, "text": {"field": "text"}}},
      {"data": {"name": "tbody"}, "transform": [{"filter": "datum.col == '二级'"}], "mark": {"type": "text", "fontSize": 11.5, "color": "#222"}, "encoding": {
        "x": {"field": "sub", "type": "nominal"}, "y": {"field": "row", "type": "nominal"}, "text": {"field": "text"}}},
      {"data": {"name": "tlines"}, "mark": {"type": "rule", "color": "#555", "strokeWidth": 1.5}, "encoding": {"y": {"field": "row", "type": "nominal", "bandPosition": 1}}}
    ]},
    {"width": 85, "height": 185, "layer": [
      {"data": {"name": "hdr"}, "mark": {"type": "rect", "color": "#b5461e"}, "encoding": {"y": {"field": "row", "type": "nominal", "scale": {"type": "band", "domain": ["h1", "h2", "r1", "r2", "r3", "r4", "r5", "r6"], "paddingInner": 0, "paddingOuter": 0}, "axis": null}}},
      {"data": {"name": "hdr"}, "transform": [{"filter": "datum.row == 'h1'"}], "mark": {"type": "rule", "color": "#e9a57c", "strokeWidth": 1, "xOffset": 4, "x2Offset": -4}, "encoding": {"y": {"field": "row", "type": "nominal", "bandPosition": 1}}},
      {"data": {"name": "thead"}, "transform": [{"filter": "datum.col == '未民'"}], "mark": {"type": "text", "font": "Noto Sans CJK SC", "fontSize": 12, "fontWeight": "bold", "color": "#ffffff"}, "encoding": {"y": {"field": "row", "type": "nominal"}, "text": {"field": "text"}}},
      {"data": {"name": "tbody"}, "transform": [{"filter": "datum.col == '未民'"}], "mark": {"type": "text", "fontSize": 11.5, "color": "#222"}, "encoding": {"y": {"field": "row", "type": "nominal"}, "text": {"field": "text"}}},
      {"data": {"name": "tlines"}, "mark": {"type": "rule", "color": "#555", "strokeWidth": 1.5}, "encoding": {"y": {"field": "row", "type": "nominal", "bandPosition": 1}}}
    ]},
    {"width": 61, "height": 185, "layer": [
      {"data": {"name": "hdr"}, "mark": {"type": "rect", "color": "#b5461e"}, "encoding": {"y": {"field": "row", "type": "nominal", "scale": {"type": "band", "domain": ["h1", "h2", "r1", "r2", "r3", "r4", "r5", "r6"], "paddingInner": 0, "paddingOuter": 0}, "axis": null}}},
      {"data": {"name": "thead"}, "transform": [{"filter": "datum.col == '合计'"}], "mark": {"type": "text", "font": "Noto Sans CJK SC", "fontSize": 12, "fontWeight": "bold", "color": "#ffffff"}, "encoding": {"y": {"field": "row", "type": "nominal"}, "text": {"field": "text"}}},
      {"data": {"name": "tbody"}, "transform": [{"filter": "datum.col == '合计'"}], "mark": {"type": "text", "fontSize": 11.5, "color": "#222"}, "encoding": {"y": {"field": "row", "type": "nominal"}, "text": {"field": "text"}}},
      {"data": {"name": "tlines"}, "mark": {"type": "rule", "color": "#555", "strokeWidth": 1.5}, "encoding": {"y": {"field": "row", "type": "nominal", "bandPosition": 1}}}
    ]}
  ], "spacing": 0, "bounds": "flush"},

  {"hconcat": [
    {"width": 683, "height": 41, "data": {"values": []}, "mark": "point"},
    {"width": 26, "height": 41, "data": {"name": "pageNo"}, "mark": {"type": "text", "font": "Liberation Sans", "fontSize": 15, "color": "#c4501f", "dy": 10.5}, "encoding": {"text": {"field": "文本"}}}
  ], "spacing": 0, "bounds": "flush"}
]
}
